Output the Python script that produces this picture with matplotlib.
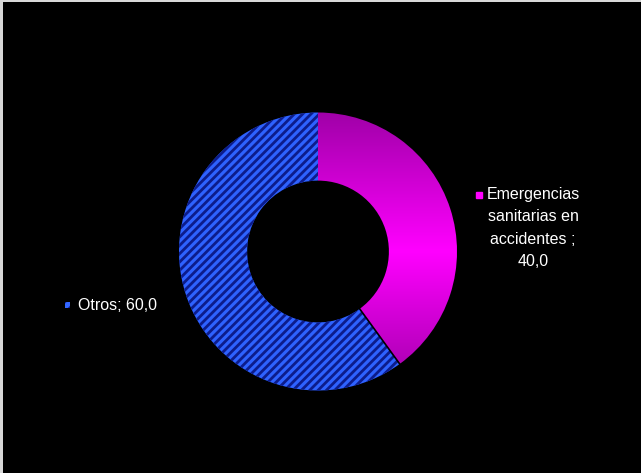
import numpy as np
import matplotlib.pyplot as plt
from matplotlib.patches import Rectangle
from matplotlib.colors import LinearSegmentedColormap

labels = ['Emergencias\nsanitarias en\naccidentes ;', 'Otros;']
values = [40.0, 60.0]
value_text = ['40,0', '60,0']
colors = ['#FF00FF', '#3366FF']

plt.rcParams['font.family'] = ['Liberation Sans', 'DejaVu Sans']
plt.rcParams['hatch.linewidth'] = 2.0

fig = plt.figure(figsize=(6.41, 4.73), dpi=100)
fig.patch.set_facecolor('#d8d8d8')
W, H = 641, 473

# black chart area, pixel coordinates
bg = fig.add_axes([3 / W, 0, (W - 3) / W, (H - 2) / H])
bg.set_facecolor('black')
bg.set_xlim(3, W)
bg.set_ylim(H, 2)
bg.axis('off')
bg.add_patch(Rectangle((3, 2), W, H, color='black', zorder=0))

# donut axes: 300x300 px centred on (318, 251.5)
cx, cy, half = 318, 251.5, 150
ax = fig.add_axes([(cx - half) / W, (H - cy - half) / H, 2 * half / W, 2 * half / H])
ax.set_facecolor('none')
R = half / 139.0
wedges, _ = ax.pie(values, colors=colors, startangle=90, counterclock=False,
                   radius=1.0, wedgeprops=dict(width=0.49, linewidth=0))

# magenta wedge with vertical gradient
mag = wedges[0]
mag.set_facecolor('none')
cmap = LinearSegmentedColormap.from_list('m', ['#FF00FF', '#A000A8'])
yy = np.linspace(-1, 1, 300)
grad = np.abs(yy)[:, None] * np.ones((1, 10))
im = ax.imshow(grad, extent=[-1, 1, -1, 1], origin='lower', cmap=cmap,
               vmin=0, vmax=1, aspect='auto', zorder=1)
im.set_clip_path(mag)
ax.set_xlim(-R, R)
ax.set_ylim(-R, R)
ax.axis('off')

# blue striped wedge
blue = wedges[1]
blue.set_facecolor('#2E62FF')
blue.set_hatch('////')
blue.set_edgecolor('#0C1C8C')
blue.set_linewidth(0)
blue.set_zorder(2)

# black separator at lower boundary
ang = np.deg2rad(90 - 360 * values[0] / sum(values))
ax.plot([0.51 * np.cos(ang), np.cos(ang)], [0.51 * np.sin(ang), np.sin(ang)],
        color='black', lw=1.2, zorder=3)

# data labels
bg.add_patch(Rectangle((476, 192), 6, 6, color=colors[0], zorder=3))
bg.text(533, 228, labels[0] + '\n' + value_text[0], color='white', fontsize=11.5,
        ha='center', va='center', linespacing=1.6, zorder=3)
bg.add_patch(Rectangle((65, 302), 5, 6, facecolor=colors[1], hatch='///',
                       edgecolor='#0C1C8C', lw=0, zorder=3))
bg.text(78, 305, labels[1] + ' ' + value_text[1], color='white', fontsize=11.5,
        ha='left', va='center', zorder=3)

fig.savefig('out.png', dpi=100, facecolor=fig.get_facecolor())
